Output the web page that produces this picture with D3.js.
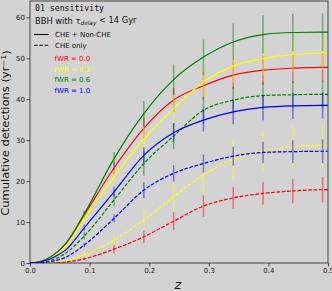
<!DOCTYPE html>
<html><head><meta charset="utf-8">
<script src="https://cdn.jsdelivr.net/npm/d3@7"></script>
<style>html,body{margin:0;padding:0;background:#d3d3d3;}svg{display:block;}</style>
</head><body>
<svg id="c" width="332" height="291"></svg>
<script>
// ---------- data ----------
const zGrid = [0, 0.02, 0.04, 0.06, 0.091, 0.141, 0.191, 0.241, 0.291, 0.341, 0.391, 0.441, 0.491, 0.5];
const errZ = [0.091, 0.141, 0.191, 0.241, 0.291, 0.341, 0.391, 0.441, 0.491];
const fwrLabels = ["fWR = 0.0", "fWR = 0.2", "fWR = 0.6", "fWR = 1.0"];
const xTicks = [0.0, 0.1, 0.2, 0.3, 0.4, 0.5];
const yTicks = [0, 10, 20, 30, 40, 50, 60];

// CHE + Non-CHE (solid)
const totalFwr00 = [0, 0.5, 1.9, 4.6, 11.7, 23.2, 32.9, 39.8, 43.3, 45.9, 47.1, 47.6, 47.8, 47.8];
const totalFwr02 = [0, 0.45, 1.8, 4.1, 10.9, 21.0, 30.3, 37.7, 44.2, 48.1, 49.9, 50.9, 51.3, 51.3];
const totalFwr06 = [0, 0.5, 2.0, 4.8, 12.0, 25.5, 36.5, 44.8, 50.3, 54.0, 55.8, 56.3, 56.4, 56.4];
const totalFwr10 = [0, 0.35, 1.4, 3.2, 8.6, 17.4, 26.3, 31.8, 34.9, 36.9, 38.0, 38.4, 38.5, 38.5];
// CHE only (dashed)
const cheFwr00 = [0, 0.02, 0.1, 0.25, 1.0, 3.4, 6.4, 10.2, 13.9, 15.9, 17.0, 17.6, 17.9, 17.9];
const cheFwr02 = [0, 0.05, 0.25, 0.6, 2.0, 5.6, 10.5, 16.2, 21.5, 25.3, 27.4, 28.4, 28.7, 28.7];
const cheFwr06 = [0, 0.2, 0.9, 2.4, 6.6, 15.4, 24.3, 31.0, 37.3, 39.8, 40.9, 41.1, 41.2, 41.2];
const cheFwr10 = [0, 0.12, 0.5, 1.4, 4.4, 10.9, 17.8, 21.9, 24.3, 26.1, 27.0, 27.2, 27.3, 27.3];

// error half-widths at errZ
const totalErr00 = [0.8, 1.5, 2.6, 3.0, 3.3, 3.5, 3.6, 3.6, 3.6];
const totalErr02 = [0.9, 1.7, 2.8, 3.4, 3.8, 4.0, 4.1, 4.1, 4.1];
const totalErr06 = [0.8, 1.6, 3.1, 3.7, 4.3, 4.5, 4.7, 4.6, 4.6];
const totalErr10 = [0.7, 1.2, 1.9, 2.4, 2.8, 3.0, 3.1, 3.2, 3.2];
const cheErr00 = [0.4, 1.0, 1.5, 2.2, 2.6, 2.7, 2.7, 3.0, 3.1];
const cheErr02 = [0.6, 1.2, 2.4, 3.6, 4.6, 4.8, 5.0, 5.2, 5.2];
const cheErr06 = [0.9, 1.6, 3.0, 3.2, 3.3, 3.3, 3.3, 3.3, 3.3];
const cheErr10 = [0.5, 1.0, 2.0, 2.0, 2.2, 2.3, 2.6, 2.8, 2.9];

const colors = ["#ff0000", "#ffff00", "#008000", "#0000ff"];

const totals = [totalFwr00, totalFwr02, totalFwr06, totalFwr10];
const ches = [cheFwr00, cheFwr02, cheFwr06, cheFwr10];
const totalErrs = [totalErr00, totalErr02, totalErr06, totalErr10];
const cheErrs = [cheErr00, cheErr02, cheErr06, cheErr10];

// ---------- layout ----------
const L = 30, R = 328, T = 1, B = 263;
const svg = d3.select("#c");
svg.append("rect").attr("width", 332).attr("height", 291).attr("fill", "#d3d3d3");

const x = d3.scaleLinear().domain([0, 0.5]).range([L, R]);
const y = d3.scaleLinear().domain([0, 64]).range([B, T]);

svg.append("clipPath").attr("id", "pc").append("rect")
  .attr("x", L).attr("y", T).attr("width", R - L).attr("height", B - T);
const plot = svg.append("g").attr("clip-path", "url(#pc)");

const line = d3.line().x(d => x(d[0])).y(d => y(d[1])).curve(d3.curveMonotoneX);

function drawSeries(vals, errs, color, dashed) {
  plot.append("path")
    .datum(zGrid.map((z, i) => [z, vals[i]]))
    .attr("d", line).attr("fill", "none").attr("stroke", color)
    .attr("stroke-width", 1.2)
    .attr("stroke-dasharray", dashed ? "3.7,1.6" : null);
  const pts = errZ.map((z, i) => ({ z, v: vals[zGrid.indexOf(z)], e: errs[i] }));
  plot.selectAll(null).data(pts).enter().append("line")
    .attr("x1", d => x(d.z)).attr("x2", d => x(d.z))
    .attr("y1", d => y(d.v - d.e)).attr("y2", d => y(d.v + d.e))
    .attr("stroke", color).attr("stroke-opacity", 0.45).attr("stroke-width", 1.6);
}
for (let k = 0; k < 4; k++) {
  drawSeries(totals[k], totalErrs[k], colors[k], false);
  drawSeries(ches[k], cheErrs[k], colors[k], true);
}

// ---------- axes ----------
const tickColor = "#222";
const xAxis = svg.append("g").attr("transform", `translate(0,${B})`)
  .call(d3.axisBottom(x).tickValues(xTicks).tickFormat(d3.format(".1f")).tickSizeOuter(0).tickSize(3.5));
const yAxis = svg.append("g").attr("transform", `translate(${L},0)`)
  .call(d3.axisLeft(y).tickValues(yTicks).tickFormat(d3.format("d")).tickSizeOuter(0).tickSize(3.5));
[xAxis, yAxis].forEach(a => {
  a.select(".domain").remove();
  a.selectAll("line").attr("stroke", tickColor).attr("stroke-width", 0.8);
  a.selectAll("text").attr("fill", tickColor).style("font-family", "DejaVu Sans").style("font-size", "7px");
});
xAxis.selectAll("text").attr("dy", "0.71em").attr("y", 5);
yAxis.selectAll("text").attr("x", -5);

svg.append("rect").attr("x", L).attr("y", T).attr("width", R - L).attr("height", B - T)
  .attr("fill", "none").attr("stroke", "#222").attr("stroke-width", 0.8);

// axis labels
svg.append("text").attr("x", 178).attr("y", 289).attr("text-anchor", "middle")
  .style("font-family", "DejaVu Sans").style("font-style", "italic").style("font-size", "13px")
  .attr("fill", "#111").text("z");

const yl = svg.append("text").attr("transform", `translate(9,133) rotate(-90) scale(1.15,1)`)
  .attr("text-anchor", "middle").style("font-family", "DejaVu Sans").style("font-size", "10px").attr("fill", "#111");
yl.append("tspan").text("Cumulative detections (yr");
yl.append("tspan").attr("dy", "-0.4em").style("font-size", "7px").text("\u22121");
yl.append("tspan").attr("dy", "0.4em").text(")");

// ---------- legend ----------
svg.append("text").attr("x", 35).attr("y", 10.5)
  .style("font-family", "DejaVu Sans Mono").style("font-size", "8.2px").attr("fill", "#111")
  .text("01 sensitivity");
const t2 = svg.append("text").attr("x", 35).attr("y", 24)
  .style("font-family", "DejaVu Sans").style("font-size", "8.3px").attr("fill", "#111");
t2.append("tspan").text("BBH with \u03c4");
t2.append("tspan").attr("dy", "0.25em").style("font-size", "5.8px").style("font-style", "italic").text("delay");
t2.append("tspan").attr("dy", "-0.25em").text(" < 14 Gyr");

const legStyle = ["CHE + Non-CHE", "CHE only"];
legStyle.forEach((s, i) => {
  const yy = 34.5 + i * 10.8;
  svg.append("line").attr("x1", 34).attr("x2", 49).attr("y1", yy).attr("y2", yy)
    .attr("stroke", "#111").attr("stroke-width", 1.1).attr("stroke-dasharray", i ? "3.7,1.6" : null);
  svg.append("text").attr("x", 55).attr("y", yy + 2.6)
    .style("font-family", "DejaVu Sans").style("font-size", "7px").attr("fill", "#111").text(s);
});
fwrLabels.forEach((s, i) => {
  svg.append("text").attr("x", 54.5).attr("y", 61.2 + i * 10.5)
    .style("font-family", "DejaVu Sans").style("font-size", "7px").attr("fill", colors[i]).text(s);
});
</script>
</body></html>
